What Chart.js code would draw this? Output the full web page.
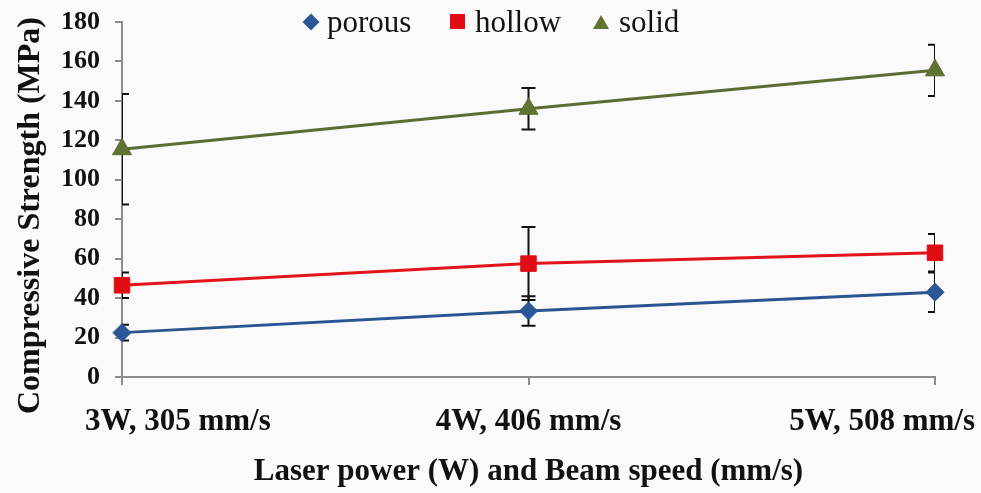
<!DOCTYPE html>
<html>
<head>
<meta charset="utf-8">
<script src="https://cdn.jsdelivr.net/npm/chart.js@4"></script>
<style>
  html, body { margin: 0; padding: 0; background: #fafafa; }
  #wrap { position: relative; width: 981px; height: 493px; }
  #legend { position: absolute; top: 0; left: 0; width: 981px; height: 44px;
            font-family: "Liberation Serif", "Times New Roman", serif; font-size: 31px; color: #111; }
  #legend .item { position: absolute; top: 0; line-height: 44px; white-space: nowrap; }
  #legend .mk { display: inline-block; vertical-align: middle; margin-right: 10px; position: relative; top: -3px; }
  .diamond { width: 12px; height: 12px; background: #2b5797; transform: rotate(45deg); }
  .square { width: 15px; height: 15px; background: #e00d14; }
  .triangle { width: 0; height: 0; border-left: 8px solid transparent; border-right: 8px solid transparent;
              border-bottom: 14px solid #5f7332; }
</style>
</head>
<body>
<div id="wrap">
  <canvas id="strengthChart" width="981" height="493"></canvas>
  <div id="legend">
    <span class="item" style="left:305px"><span class="mk diamond"></span>porous</span>
    <span class="item" style="left:450px"><span class="mk square"></span>hollow</span>
    <span class="item" style="left:593px"><span class="mk triangle"></span>solid</span>
  </div>
</div>
<script>
/* ---- data ---- */
const categories = ["3W, 305 mm/s", "4W, 406 mm/s", "5W, 508 mm/s"];

const porous = [22.5, 33.5, 43];
const porousErr = [4, 7.5, 10];

const hollow = [46.5, 57.5, 63];
const hollowErr = [6.5, 18.5, 9.5];

const solid = [115.5, 136, 155.5];
const solidErr = [28, 10.5, 13];

const yMin = 0;
const yMax = 180;
const yStep = 20;

const yTitle = "Compressive Strength (MPa)";

const SERIF = '"Liberation Serif", "Times New Roman", serif';
const AXIS_GREY = "#8c8c8c";

/* ---- error bars (drawn under the lines/markers) ---- */
const errorBars = {
  id: "errorBars",
  beforeDatasetsDraw(chart) {
    const { ctx, chartArea, scales: { x, y } } = chart;
    ctx.save();
    ctx.beginPath();
    ctx.rect(chartArea.left, chartArea.top - 20, chartArea.right - chartArea.left, chartArea.bottom - chartArea.top + 20);
    ctx.clip();
    ctx.strokeStyle = "#111";
    ctx.lineWidth = 2;
    chart.data.datasets.forEach((ds) => {
      ds.data.forEach((v, i) => {
        const e = ds.errors[i];
        const px = x.getPixelForValue(i);
        const top = y.getPixelForValue(v + e);
        const bot = y.getPixelForValue(v - e);
        ctx.beginPath();
        ctx.moveTo(px, top);
        ctx.lineTo(px, bot);
        ctx.moveTo(px - 7, top);
        ctx.lineTo(px + 7, top);
        ctx.moveTo(px - 7, bot);
        ctx.lineTo(px + 7, bot);
        ctx.stroke();
      });
    });
    ctx.restore();
  }
};

/* first/last category labels sit a bit outside the axis ends */
const edgeLabels = {
  id: "edgeLabels",
  beforeDraw(chart) {
    const items = chart.scales.x.getLabelItems();
    if (items.length < 2 || items._nudged) return;
    items[0].options.translation[0] -= 37;
    items[items.length - 1].options.translation[0] += 40;
    items._nudged = true;
  }
};

/* vertical axis title, centred slightly below the plot middle */
const sideTitle = {
  id: "sideTitle",
  afterDraw(chart) {
    const { ctx, chartArea } = chart;
    ctx.save();
    ctx.translate(31, (chartArea.top + chartArea.bottom) / 2 + 16);
    ctx.rotate(-Math.PI / 2);
    ctx.font = "bold 32px " + SERIF;
    ctx.fillStyle = "#111";
    ctx.textAlign = "center";
    ctx.textBaseline = "middle";
    ctx.fillText(yTitle, 0, 0);
    ctx.restore();
  }
};

const ctx = document.getElementById("strengthChart");

new Chart(ctx, {
  type: "line",
  data: {
    labels: categories,
    datasets: [
      {
        label: "porous",
        data: porous,
        errors: porousErr,
        borderColor: "#2a5590",
        backgroundColor: "#2b5797",
        pointStyle: "rectRot",
        pointRadius: 9,
        borderWidth: 3,
        pointBorderWidth: 1
      },
      {
        label: "hollow",
        data: hollow,
        errors: hollowErr,
        borderColor: "#e3131b",
        backgroundColor: "#e00d14",
        pointStyle: "rect",
        pointRadius: 11,
        borderWidth: 3,
        pointBorderWidth: 1
      },
      {
        label: "solid",
        data: solid,
        errors: solidErr,
        borderColor: "#5d6b34",
        backgroundColor: "#5f7332",
        pointStyle: "triangle",
        pointRadius: 11,
        borderWidth: 3,
        pointBorderWidth: 1
      }
    ]
  },
  options: {
    responsive: false,
    animation: false,
    layout: { padding: { top: 22, right: 46, left: 0, bottom: 0 } },
    plugins: {
      legend: { display: false },
      tooltip: { enabled: false }
    },
    scales: {
      x: {
        offset: false,
        border: { color: AXIS_GREY, width: 2 },
        grid: { drawOnChartArea: false, drawTicks: true, tickLength: 8, color: AXIS_GREY, lineWidth: 2 },
        ticks: {
          align: "inner",
          padding: 18,
          color: "#111",
          font: { family: SERIF, size: 31, weight: "bold" }
        },
        title: {
          display: true,
          text: "Laser power (W) and Beam speed (mm/s)",
          color: "#111",
          font: { family: SERIF, size: 31, weight: "bold" },
          padding: { top: 4, bottom: 2 }
        },
        afterFit: (axis) => { axis.height = 116; }
      },
      y: {
        min: yMin,
        max: yMax,
        border: { color: AXIS_GREY, width: 2 },
        grid: { drawOnChartArea: false, drawTicks: true, tickLength: 7, color: AXIS_GREY, lineWidth: 2 },
        ticks: {
          stepSize: yStep,
          padding: 15,
          color: "#111",
          font: { family: SERIF, size: 26, weight: "bold" }
        },
        afterFit: (axis) => {
          axis.width = 122;
          axis.paddingTop = 0;
          axis.paddingBottom = 0;
        }
      }
    }
  },
  plugins: [errorBars, edgeLabels, sideTitle]
});
</script>
</body>
</html>
